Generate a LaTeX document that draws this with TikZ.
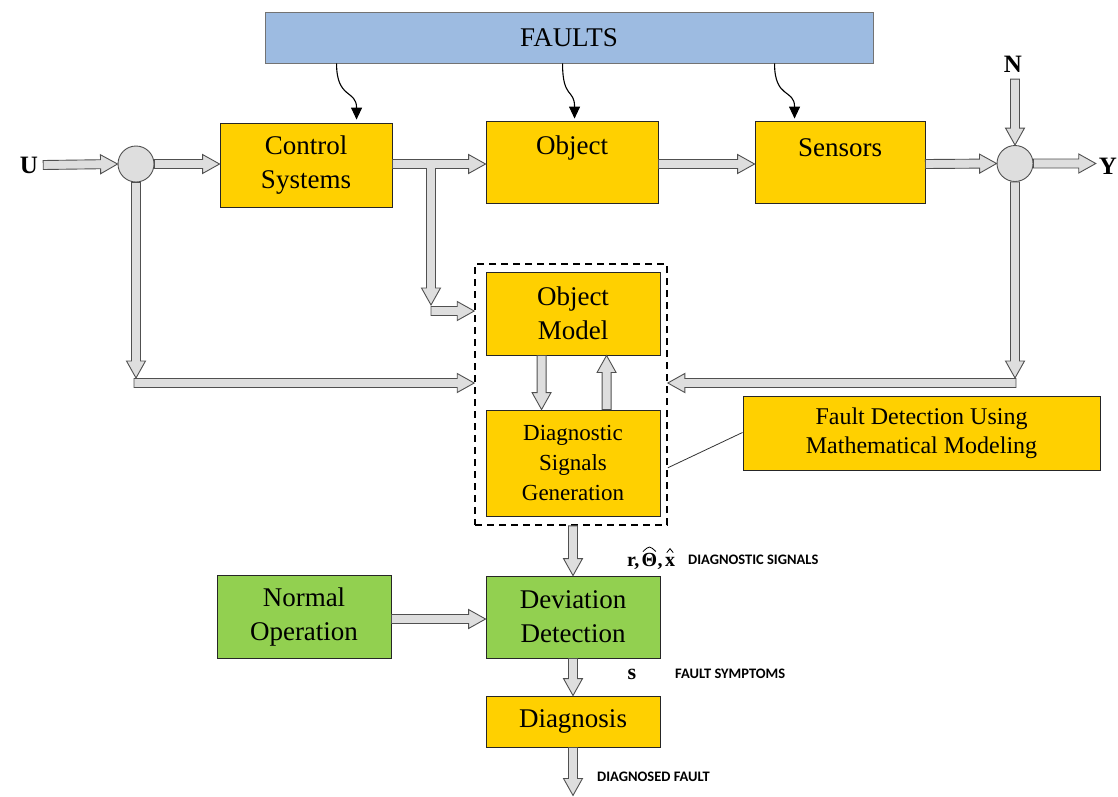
\documentclass[tikz,border=0pt]{standalone}
\usepackage{fontspec}
\setmainfont{Liberation Serif}
\newfontfamily\capsfont{Carlito}
\usetikzlibrary{calc,arrows.meta}

\definecolor{boxyellow}{RGB}{255,208,0}
\definecolor{boxgreen}{RGB}{146,208,80}
\definecolor{faultblue}{RGB}{157,187,225}
\definecolor{arrowfill}{RGB}{222,222,222}
\definecolor{arrowline}{RGB}{80,80,80}

% Wide hollow block arrow from one named point to another
\newcommand\hollowarrow[2]{%
  \path coordinate (hb) at ($(#2)!17pt!(#1)$);
  \filldraw[hollowbody]
    ($(#1)!4.5pt!90:(#2)$) -- ($(hb)!4.5pt!90:(#2)$) -- ($(hb)!9.5pt!90:(#2)$)
    -- (#2)
    -- ($(hb)!9.5pt!-90:(#2)$) -- ($(hb)!4.5pt!-90:(#2)$) -- ($(#1)!4.5pt!-90:(#2)$) -- cycle;}

\begin{document}
\begin{tikzpicture}[x=1pt,y=-1pt,
  block/.style={draw=black!85, line width=0.9pt, inner sep=0pt, align=center,
                font=\fontsize{27}{34}\selectfont},
  yellowbox/.style={block, fill=boxyellow},
  greenbox/.style={block, fill=boxgreen},
  boxtext/.style={font=\fontsize{27}{34}\selectfont, inner sep=0pt},
  junction/.style={circle, draw=arrowline, fill=arrowfill, line width=0.9pt,
                   minimum size=36pt, inner sep=0pt},
  hollowbody/.style={fill=arrowfill, draw=arrowline, line width=0.9pt, line join=miter},
  faultarrow/.style={black, line width=1.1pt, -{Triangle[length=12pt,width=11pt]}},
  sig/.style={font=\capsfont\bfseries\fontsize{14.5}{16}\selectfont, inner sep=0pt, anchor=west},
  sym/.style={font=\bfseries\fontsize{20}{22}\selectfont, inner sep=0pt, anchor=base west},
  hat/.style={line width=0.8pt, black},
  io/.style={font=\bfseries\fontsize{25}{27}\selectfont, inner sep=1pt},
  groupbox/.style={draw=black, dashed, dash pattern=on 7pt off 5pt, line width=1.6pt},
]
\fill[white] (0,0) rectangle (1118,796);
\useasboundingbox (0,0) rectangle (1118,796);

% ---------- blocks ----------
\node[block, fill=faultblue, draw=black!55, minimum width=608pt, minimum height=51pt] (faults) at (569,37.5) {FAULTS};
\node[yellowbox, minimum width=172pt, minimum height=84pt] (cs) at (306,165) {Control\\Systems};
\node[yellowbox, minimum width=172pt, minimum height=82pt] (obj) at (572,162) {};
\node[boxtext] (objtxt) at ($(obj.north)+(0,27)$) {Object};
\node[yellowbox, minimum width=170pt, minimum height=82pt] (sens) at (840,162) {};
\node[boxtext] (senstxt) at ($(sens.north)+(0,27)$) {Sensors};

\node[junction] (j1) at (136,164) {};
\node[junction] (j2) at (1015,163.5) {};

\node[io] (ulab) at (29,165) {U};
\node[io] (nlab) at (1013,64) {N};
\node[io] (ylab) at (1108,166) {Y};

\node[groupbox, minimum width=192pt, minimum height=261pt, inner sep=0pt] (dbox) at (571,394.5) {};
\node[yellowbox, minimum width=174pt, minimum height=83pt] (om) at (573,313.5) {Object\\Model};
\node[yellowbox, minimum width=174pt, minimum height=106pt, font=\fontsize{23}{30}\selectfont] (dsg) at (573,463) {Diagnostic\\Signals\\Generation};
\node[yellowbox, minimum width=357pt, minimum height=74pt, font=\fontsize{24}{29}\selectfont] (fd) at (921.5,433) {Fault Detection Using\\Mathematical Modeling};

\node[greenbox, minimum width=174pt, minimum height=83pt] (norm) at (304,616.5) {Normal\\Operation};
\node[greenbox, minimum width=174pt, minimum height=82pt] (dev) at (573,617) {Deviation\\Detection};
\node[yellowbox, minimum width=174pt, minimum height=51pt] (diag) at (573,721.5) {Diagnosis};

% ---------- labels ----------
% r, Theta-hat, x-hat (hats drawn as strokes)
\node[sym] (symr) at (627,566) {r,};
\node[sym] (symth) at ($(symr.base east)+(2,0)$) {Θ};
\node[sym] (symc) at (symth.base east) {,};
\node[sym] (symx) at ($(symc.base east)+(2,0)$) {x};
\draw[hat] ($(symth.north west)+(1.5,-1)$) .. controls ($(symth.north)+(0,-7)$) .. ($(symth.north east)+(-1.5,-1)$);
\draw[hat] ($(symx.north west)+(2,-4)$) -- ($(symx.north)+(0,-8)$) -- ($(symx.north east)+(-2,-4)$);
\node[sig] (sigtxt) at (688,560) {DIAGNOSTIC SIGNALS};
\node[inner sep=0pt, font=\bfseries\fontsize{22}{24}\selectfont] (slab) at (632,674) {s};
\node[sig] (symtxt) at (675,674) {FAULT SYMPTOMS};
\node[sig] (dftxt) at (597,777) {DIAGNOSED FAULT};

% ---------- fault influences ----------
\draw[faultarrow] ($(faults.south west)+(72,0)$) .. controls +(0,36) and +(0,-30) .. ($(cs.north west)+(137,-3)$);
\draw[faultarrow] ($(faults.south west)+(298,0)$) .. controls +(0,36) and +(0,-30) .. ($(obj.north west)+(89,-2)$);
\draw[faultarrow] ($(faults.south west)+(510,0)$) .. controls +(0,36) and +(0,-30) .. ($(sens.north west)+(40,-2)$);

% ---------- connection points ----------
\coordinate (uOut) at ($(ulab.east)+(4,0)$);
\coordinate (uIn)  at (j1.west);
\coordinate (csIn) at (cs.west |- j1);
\coordinate (csOut) at (cs.east |- j1);
\coordinate (objIn) at (obj.west |- j1);
\coordinate (objOut) at (obj.east |- j1);
\coordinate (sensIn) at (sens.west |- j1);
\coordinate (sensOut) at (sens.east |- j1);
\coordinate (yIn) at ($(ylab.west |- j2)+(-2,0)$);
\coordinate (nOut) at ($(j2.north)+(0,-66)$);

\coordinate (br) at (431,164);
\coordinate (brDown) at (431,305);
\coordinate (brSide) at (431,311);
\coordinate (brIn) at (dbox.west |- brSide);

\coordinate (fb1Turn) at (136,378);
\coordinate (fb1Side) at (134,383);
\coordinate (fb1In) at (dbox.west |- fb1Side);
\coordinate (fb2Turn) at (1015,378);
\coordinate (fb2Side) at (1016,383);
\coordinate (fb2In) at (dbox.east |- fb2Side);

\coordinate (omDown) at ($(om.south west)+(56,0)$);
\coordinate (dsgIn) at (omDown |- dsg.north);
\coordinate (dsgUp) at ($(dsg.north west)+(121,0)$);
\coordinate (omIn) at (dsgUp |- om.south);

\coordinate (grpOut) at (dev.north |- dbox.south);
\coordinate (normOut) at ($(norm.east)+(0,2.5)$);
\coordinate (devIn) at (dev.west |- normOut);
\coordinate (outEnd) at ($(diag.south)+(0,48)$);

\coordinate (fdLink) at ($(dbox.south east)+(0,-58)$);
\coordinate (fdEnd) at ($(fd.south west)+(0,-38)$);

% ---------- block arrows ----------
\hollowarrow{uOut}{uIn}
\hollowarrow{j1.east}{csIn}
\hollowarrow{br}{brDown}
\hollowarrow{csOut}{objIn}
% open the T-junction where the branch leaves the main line
\fill[arrowfill] ($(br)+(-4,3.4)$) rectangle ($(br)+(4,5.6)$);
\hollowarrow{brSide}{brIn}
\hollowarrow{objOut}{sensIn}
\hollowarrow{sensOut}{j2.west}
\hollowarrow{j2.east}{yIn}
\hollowarrow{nOut}{j2.north}

\hollowarrow{j1.south}{fb1Turn}
\hollowarrow{fb1Side}{fb1In}
\hollowarrow{j2.south}{fb2Turn}
\hollowarrow{fb2Side}{fb2In}

\hollowarrow{omDown}{dsgIn}
\hollowarrow{dsgUp}{omIn}

\hollowarrow{grpOut}{dev.north}
\hollowarrow{normOut}{devIn}
\hollowarrow{dev.south}{diag.north}
\hollowarrow{diag.south}{outEnd}

% link to the explanatory note
\draw[line width=0.8pt, black!80] (fdLink) -- (fdEnd);
\end{tikzpicture}
\end{document}
